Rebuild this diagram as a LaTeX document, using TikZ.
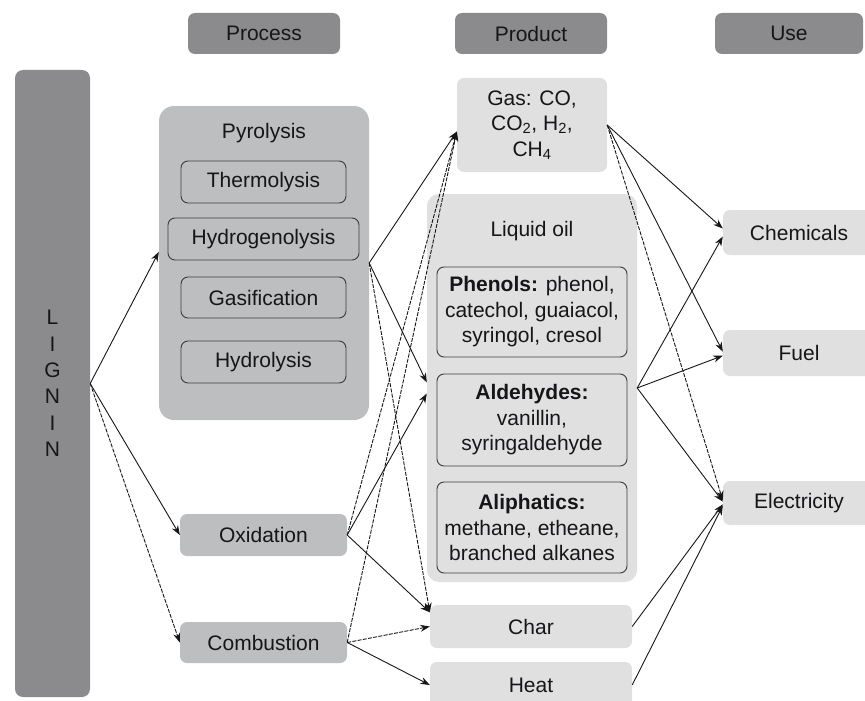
\documentclass[tikz,border=0pt]{standalone}
\usepackage{fontspec}
\setmainfont{Liberation Sans}
\usetikzlibrary{arrows.meta}
\definecolor{hdr}{RGB}{139,139,141}
\definecolor{midgray}{RGB}{189,190,192}
\definecolor{lightgray}{RGB}{224,224,225}
\definecolor{edge}{RGB}{60,60,62}
\definecolor{ink}{RGB}{22,22,24}
\begin{document}
\begin{tikzpicture}[x=1pt,y=-1pt,
  font=\fontsize{21}{25.5}\selectfont, text=ink,
  box/.style={rectangle, rounded corners=7pt, inner sep=0pt, align=center},
  header/.style={box, fill=hdr},
  midbox/.style={box, fill=midgray},
  subbox/.style={box, fill=midgray, draw=edge, line width=0.9pt},
  prodbox/.style={box, fill=lightgray},
  oilbox/.style={box, fill=lightgray, draw=edge, line width=0.9pt},
  arr/.style={-{Stealth[length=9.5pt,width=7pt]}, line width=0.9pt, draw=ink},
  dsh/.style={arr, dash pattern=on 4pt off 1.3pt}]
\useasboundingbox (0,0) rectangle (865,701);
\clip (0,0) rectangle (865,701);

% column headers
\node[header, minimum width=152pt, minimum height=41pt] (hproc) at (264,33.5) {Process};
\node[header, minimum width=152pt, minimum height=41pt] (hprod) at (531,33.5) {Product};
\node[header, minimum width=148pt, minimum height=41pt] (huse) at (789,33.5) {Use};

% feedstock bar
\node[box, fill=hdr, rounded corners=8pt, minimum width=75pt, minimum height=627pt] (lignin) at (52.5,383.5) {};
\node[font=\fontsize{21}{26.4}\selectfont, align=center] (lignintxt) at (52.5,383.5) {L\\I\\G\\N\\I\\N};

% processes
\node[midbox, rounded corners=15pt, minimum width=210pt, minimum height=314pt] (pyro) at (264,263) {};
\node (pyrotxt) at (264,133) {Pyrolysis};
\node[subbox, minimum width=165pt, minimum height=42pt] (thermo) at (263.5,182) {Thermolysis};
\node[subbox, minimum width=191pt, minimum height=42pt] (hydrog) at (263.5,239) {Hydrogenolysis};
\node[subbox, minimum width=165pt, minimum height=41pt] (gasif) at (263.5,297.5) {Gasification};
\node[subbox, minimum width=165pt, minimum height=42pt] (hydrol) at (263.5,362) {Hydrolysis};
\node[midbox, minimum width=167pt, minimum height=42pt] (oxid) at (263.5,535) {Oxidation};
\node[midbox, minimum width=167pt, minimum height=41pt] (comb) at (263.5,642.5) {Combustion};

% products
\node[prodbox, minimum width=150pt, minimum height=94pt] (gas) at (532,125)
  {Gas: CO,\\CO\textsubscript{2}, H\textsubscript{2},\\CH\textsubscript{4}};
\node[prodbox, rounded corners=12pt, minimum width=210pt, minimum height=388pt] (oil) at (532,388) {};
\node (oiltxt) at (532,231) {Liquid oil};
\node[oilbox, minimum width=190pt, minimum height=90pt] (phen) at (532,312)
  {\textbf{Phenols:} phenol,\\catechol, guaiacol,\\syringol, cresol};
\node[oilbox, minimum width=190pt, minimum height=92pt] (ald) at (532,420)
  {\textbf{Aldehydes:}\\vanillin,\\syringaldehyde};
\node[oilbox, minimum width=190pt, minimum height=91pt] (aliph) at (532,527.5)
  {\textbf{Aliphatics:}\\methane, etheane,\\branched alkanes};
\node[prodbox, minimum width=202pt, minimum height=43pt] (char) at (531,626.5) {Char};
\node[prodbox, minimum width=202pt, minimum height=46pt] (heat) at (531,685) {Heat};

% uses
\node[prodbox, minimum width=152pt, minimum height=45pt] (chem) at (799,232.5) {Chemicals};
\node[prodbox, minimum width=152pt, minimum height=46pt] (fuel) at (799,353) {Fuel};
\node[prodbox, minimum width=152pt, minimum height=44pt] (elec) at (799,503) {Electricity};

% lignin to processes
\draw[arr] (lignin.east) -- (pyro.174);
\draw[arr] (lignin.east) -- (oxid.west);
\draw[dsh] (lignin.east) -- (comb.west);

% processes to products
\draw[arr] (pyro.east) -- (gas.185);
\draw[arr] (pyro.east) -- (oil.177);
\draw[dsh] (pyro.east) -- (char.172);
\draw[dsh] (oxid.east) -- (gas.185);
\draw[arr] (oxid.east) -- (oil.183);
\draw[arr] (oxid.east) -- (char.172);
\draw[dsh] (comb.east) -- (gas.185);
\draw[dsh] (comb.east) -- (char.west);
\draw[arr] (comb.east) -- (heat.west);

% products to uses
\draw[arr] (gas.east) -- (chem.177);
\draw[arr] (gas.east) -- (fuel.179);
\draw[dsh] (gas.east) -- (elec.178);
\draw[arr] (oil.east) -- (chem.183);
\draw[arr] (oil.east) -- (fuel.182);
\draw[arr] (oil.east) -- (elec.179);
\draw[arr] (char.east) -- (elec.181);
\draw[arr] (heat.east) -- (elec.182);
\end{tikzpicture}
\end{document}
